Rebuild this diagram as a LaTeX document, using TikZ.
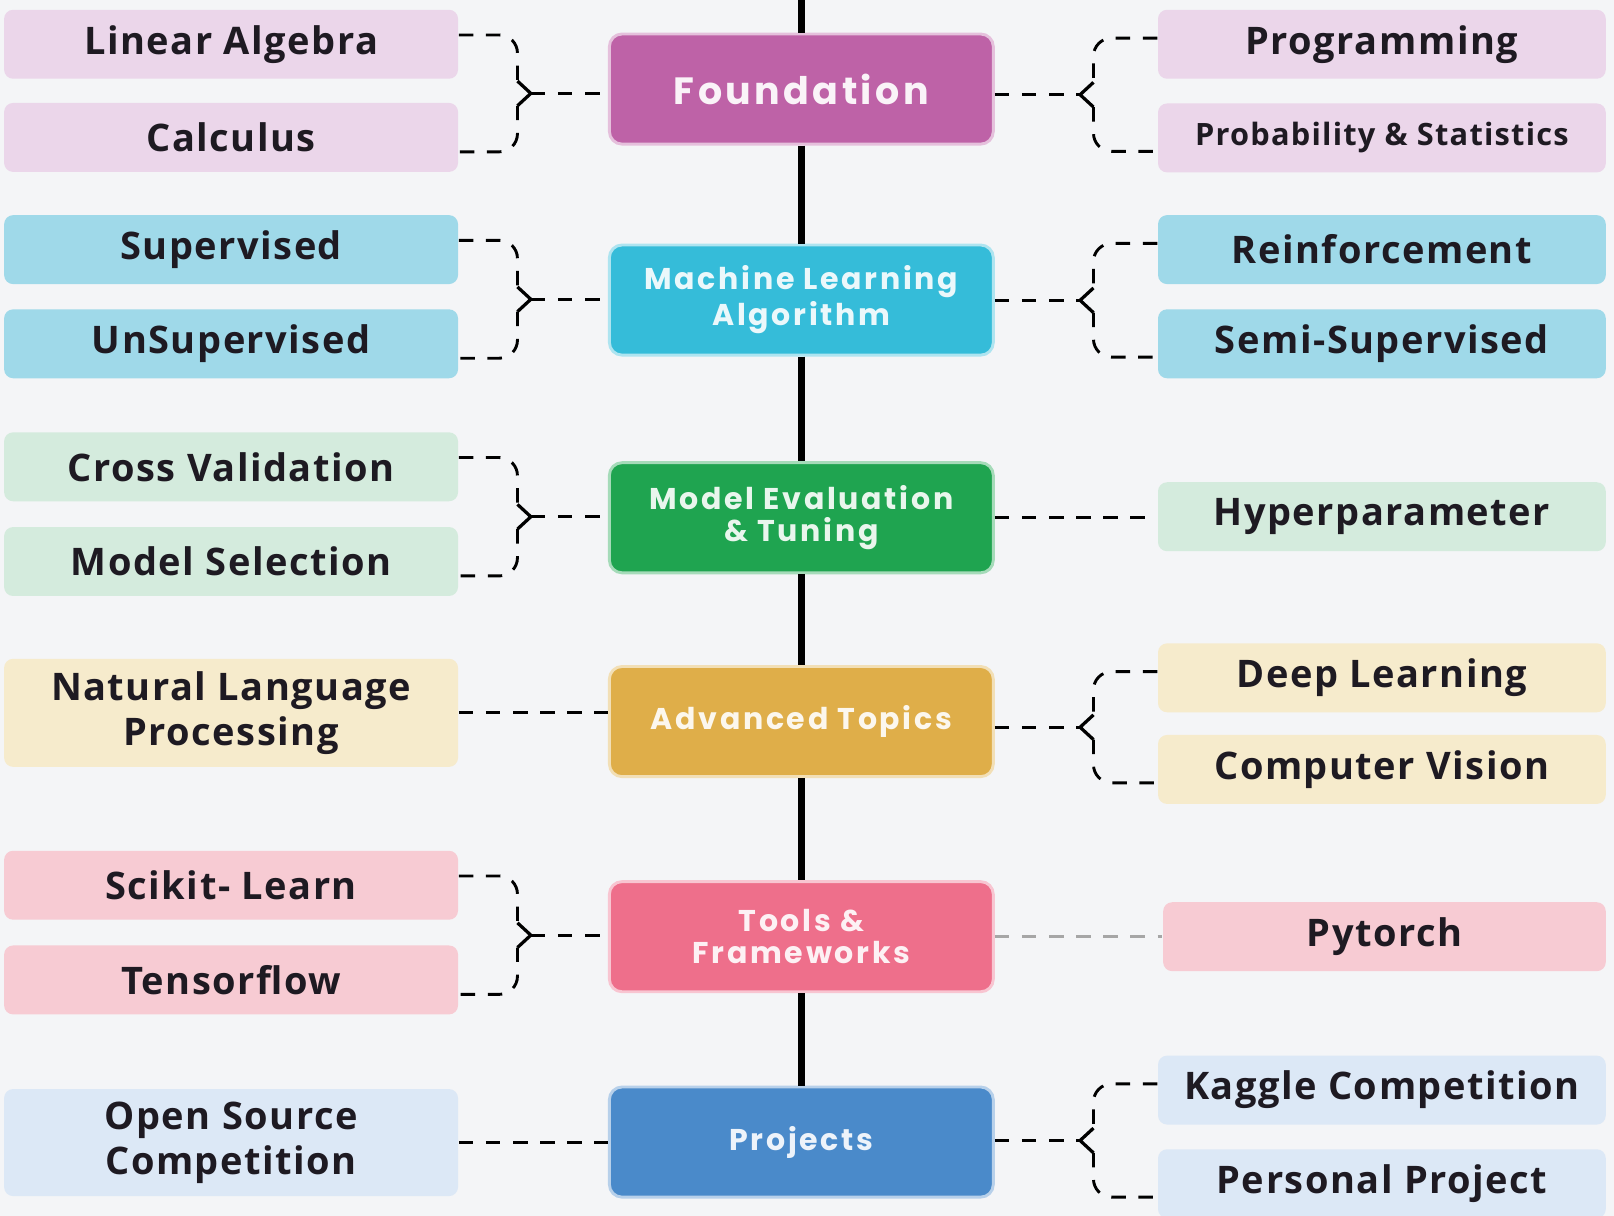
\documentclass[tikz,border=0pt]{standalone}
\usepackage{fontspec}
\setmainfont{Open Sans}[LetterSpace=4]
\newfontfamily\midfont{Poppins}[BoldFont={Poppins Bold}, LetterSpace=9]
\usetikzlibrary{calc}

\definecolor{bgcol}{HTML}{F4F5F7}
\definecolor{ink}{HTML}{1E1A22}
\definecolor{fndcol}{HTML}{BE62A7}
\definecolor{fndlite}{HTML}{EBD6EA}
\definecolor{mlacol}{HTML}{35BCD9}
\definecolor{mlalite}{HTML}{9FD9E9}
\definecolor{mevcol}{HTML}{1FA450}
\definecolor{mevlite}{HTML}{D4EBDD}
\definecolor{advcol}{HTML}{DFAE49}
\definecolor{advlite}{HTML}{F6EBCC}
\definecolor{toolcol}{HTML}{EE6F8B}
\definecolor{toollite}{HTML}{F7CBD3}
\definecolor{projcol}{HTML}{4A8ACA}
\definecolor{projlite}{HTML}{DCE8F6}

\begin{document}
\begin{tikzpicture}[
  mid/.style={rectangle, rounded corners=3.5pt, line width=0.8pt, minimum width=3.73cm, minimum height=1.07cm, align=center, font=\midfont\bfseries\fontsize{8.3}{8.9}\selectfont},
  side/.style={rectangle, rounded corners=2.5pt, minimum width=4.41cm, minimum height=0.67cm, align=center, text=ink, font=\bfseries\fontsize{10.5}{12.5}\selectfont},
  rside/.style={side, minimum width=4.35cm},
  link/.style={line width=0.8pt, dash pattern=on 4pt off 3.5pt},
  chev/.style={line width=0.9pt},
  spine/.style={line width=1.9pt, black},
]
\useasboundingbox (0,0) rectangle (15.68,-11.81);
\fill[bgcol] (0,0) rectangle (15.68,-11.81);

% centre column
\coordinate (top) at (7.785,0);
\node(fnd) [mid, fill=fndcol, draw=fndcol!40!white, text=fndcol!8!white, font=\midfont\bfseries\fontsize{10.5}{12}\selectfont] at (7.785,-0.865){Foundation};
\node(mla) [mid, fill=mlacol, draw=mlacol!40!white, text=mlacol!10!white] at (7.785,-2.915){Machine Learning\\Algorithm};
\node(mev) [mid, fill=mevcol, draw=mevcol!40!white, text=mevcol!10!white] at (7.785,-5.03){Model Evaluation\\\& Tuning};
\node(adv) [mid, fill=advcol, draw=advcol!40!white, text=advcol!10!white] at (7.785,-7.01){Advanced Topics};
\node(tool) [mid, fill=toolcol, draw=toolcol!40!white, text=toolcol!10!white] at (7.785,-9.10){Tools \&\\Frameworks};
\node(proj) [mid, fill=projcol, draw=projcol!40!white, text=projcol!10!white] at (7.785,-11.095){Projects};

\draw[spine] (top) -- (fnd.north);
\foreach \u/\v in {fnd/mla, mla/mev, mev/adv, adv/tool, tool/proj}
  \draw[spine] (\u.south) -- (\v.north);

% left column
\node(la) [side, fill=fndlite] at (2.245,-0.43){Linear Algebra};
\node(calc) [side, fill=fndlite] at (2.245,-1.335){Calculus};
\node(sup) [side, fill=mlalite] at (2.245,-2.425){Supervised};
\node(uns) [side, fill=mlalite] at (2.245,-3.34){UnSupervised};
\node(cv) [side, fill=mevlite] at (2.245,-4.535){Cross Validation};
\node(ms) [side, fill=mevlite] at (2.245,-5.455){Model Selection};
\node(nlp) [side, fill=advlite, minimum height=1.05cm] at (2.245,-6.925){Natural Language\\Processing};
\node(sk) [side, fill=toollite] at (2.245,-8.60){Scikit- Learn};
\node(tf) [side, fill=toollite] at (2.245,-9.52){Tensorflow};
\node(osc) [side, fill=projlite, minimum height=1.04cm] at (2.245,-11.10){Open Source\\Competition};

% right column
\node(prog) [rside, fill=fndlite] at (13.425,-0.43){Programming};
\node(prob) [rside, fill=fndlite, font=\bfseries\fontsize{8.5}{10}\selectfont] at (13.425,-1.34){Probability \& Statistics};
\node(rein) [rside, fill=mlalite] at (13.425,-2.425){Reinforcement};
\node(semi) [rside, fill=mlalite] at (13.425,-3.34){Semi-Supervised};
\node(hyp) [rside, fill=mevlite] at (13.425,-5.02){Hyperparameter};
\node(dl) [rside, fill=advlite] at (13.425,-6.585){Deep Learning};
\node(cvis) [rside, fill=advlite] at (13.425,-7.475){Computer Vision};
\node(pyt) [rside, fill=toollite, minimum width=4.30cm] at (13.45,-9.10){Pytorch};
\node(kag) [rside, fill=projlite] at (13.425,-10.59){Kaggle Competition};
\node(pers) [rside, fill=projlite] at (13.425,-11.50){Personal Project};

% braces on the left
\foreach \a/\b/\c in {la/calc/fnd, sup/uns/mla, cv/ms/mev, sk/tf/tool}{
  \coordinate (t) at ([yshift=0.09cm]\a.east);
  \coordinate (b) at ([yshift=-0.14cm]\b.east);
  \coordinate (m) at ($(t)!0.5!(b)$);
  \draw[link, rounded corners=5pt] (t) -- ($(t)+(0.57,0)$) -- ($(m)+(0.57,0.12)$);
  \draw[link, rounded corners=5pt] ($(m)+(0.57,-0.12)$) -- ($(b)+(0.57,0)$) -- (b);
  \draw[chev] ($(m)+(0.57,0.12)$) -- ($(m)+(0.70,0)$) -- ($(m)+(0.57,-0.12)$);
  \draw[link] ($(m)+(0.70,0)$) -- (m -| \c.west);
}

% braces on the right
\foreach \a/\b/\c in {prog/prob/fnd, rein/semi/mla, dl/cvis/adv, kag/pers/proj}{
  \coordinate (t) at ([yshift=0.06cm]\a.west);
  \coordinate (b) at ([yshift=-0.13cm]\b.west);
  \coordinate (m) at ($(t)!0.5!(b)$);
  \draw[link, rounded corners=5pt] (t) -- ($(t)+(-0.62,0)$) -- ($(m)+(-0.62,0.12)$);
  \draw[link, rounded corners=5pt] ($(m)+(-0.62,-0.12)$) -- ($(b)+(-0.62,0)$) -- (b);
  \draw[chev] ($(m)+(-0.62,0.12)$) -- ($(m)+(-0.75,0)$) -- ($(m)+(-0.62,-0.12)$);
  \draw[link] (m -| \c.east) -- ($(m)+(-0.75,0)$);
}

% single links
\draw[link] (mev.east) -- (mev.east -| hyp.west);
\draw[link] (nlp.east) -- (nlp.east -| adv.west);
\draw[link, gray!70] (tool.east) -- (tool.east -| pyt.west);
\draw[link] (osc.east) -- (osc.east -| proj.west);

\end{tikzpicture}
\end{document}
